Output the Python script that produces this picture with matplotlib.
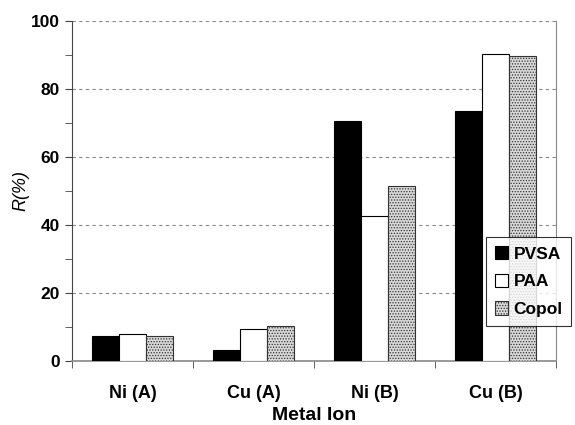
import numpy as np
import matplotlib
matplotlib.use('Agg')
import matplotlib.pyplot as plt

metals = ['Ni (A)', 'Cu (A)', 'Ni (B)', 'Cu (B)']
pvsa = [7.3, 3.3, 70.5, 73.6]
paa = [7.8, 9.3, 42.7, 90.2]
copol = [7.3, 10.2, 51.4, 89.6]

plt.rcParams['font.family'] = ['Liberation Sans', 'DejaVu Sans']
plt.rcParams['font.weight'] = 'bold'
plt.rcParams['hatch.linewidth'] = 0.6

fig = plt.figure(figsize=(5.75, 4.25), dpi=100)
ax = fig.add_axes([0.125, 0.1506, 0.842, 0.80])

x = np.arange(len(metals))
w = 0.222
ax.bar(x - w, pvsa, w, color='black', edgecolor='black', linewidth=0.8, label='PVSA', zorder=3)
ax.bar(x, paa, w, color='white', edgecolor='black', linewidth=0.8, label='PAA', zorder=3)
ax.bar(x + w, copol, w, color='#d8d8d8', edgecolor='#333333', hatch='......',
       linewidth=0.8, label='Copol', zorder=3)

ax.set_xlim(-0.5, 3.5)
ax.set_ylim(0, 100)
ax.set_yticks(range(0, 101, 20))
ax.set_yticks(range(10, 100, 20), minor=True)
ax.set_xticks(x)
ax.set_xticklabels(metals, fontsize=13, fontweight='bold')
ax.set_xticks(np.arange(-0.5, 4, 1), minor=True)
ax.tick_params(axis='x', which='major', length=0, pad=17)
ax.tick_params(axis='x', which='minor', length=5, direction='out', color='#444444')
ax.tick_params(axis='y', which='both', length=5, direction='out', color='#444444', labelsize=12.5)
for lab in ax.get_yticklabels():
    lab.set_fontweight('bold')

ax.yaxis.grid(True, linestyle=(0, (3, 3)), color='#888888', linewidth=0.8, zorder=0)
ax.spines['top'].set_visible(False)
ax.spines['left'].set_color('#444444')
ax.spines['right'].set_color('#888888')
ax.spines['bottom'].set_color('#888888')
ax.spines['bottom'].set_linewidth(1.2)

ax.set_xlabel('Metal Ion', fontsize=14, fontweight='bold')
ax.xaxis.set_label_coords(0.5, -0.135)
ax.set_ylabel('R(%)', fontsize=13, fontweight='normal', fontstyle='italic', labelpad=1)

leg = fig.legend(loc='upper left', bbox_to_anchor=(0.845, 0.442), fontsize=12.5,
                 frameon=True, fancybox=False, edgecolor='black', handlelength=0.8,
                 handleheight=0.8, handletextpad=0.3, borderpad=0.5, labelspacing=0.7,
                 borderaxespad=0)
leg.get_frame().set_linewidth(0.8)
for t in leg.get_texts():
    t.set_fontweight('bold')

fig.savefig('out.png', dpi=100)
